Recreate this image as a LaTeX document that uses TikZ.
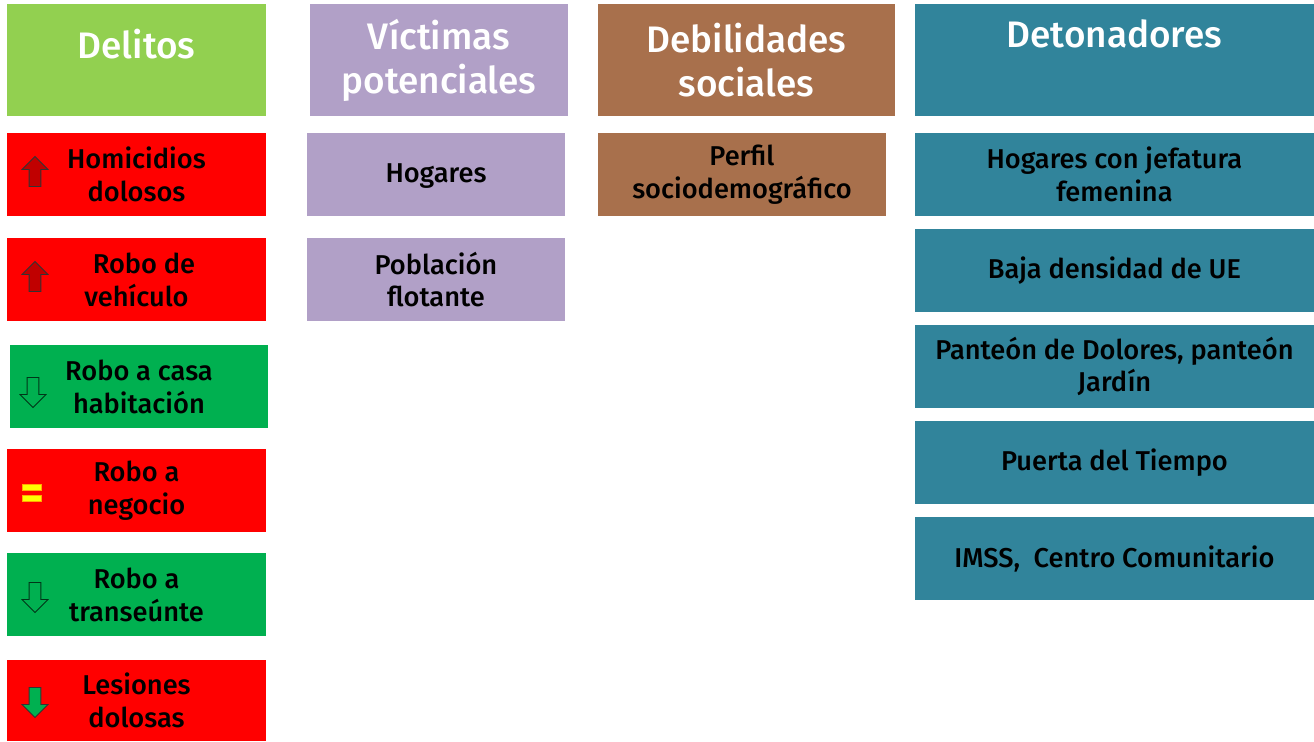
\documentclass[tikz,border=0pt]{standalone}
\usepackage{fontspec}
\setmainfont{Fira Sans}[UprightFont={* Medium}]
\usetikzlibrary{
  positioning,
  calc,
  shapes.arrows
}
\definecolor{hdrGreen}{RGB}{146,208,80}
\definecolor{hdrLilac}{RGB}{177,160,199}
\definecolor{hdrBrown}{RGB}{168,112,76}
\definecolor{hdrTeal}{RGB}{49,132,155}
\definecolor{boxRed}{RGB}{255,0,0}
\definecolor{boxGreen}{RGB}{0,176,80}
\definecolor{arrRed}{RGB}{192,0,0}
\definecolor{eqYellow}{RGB}{255,255,0}
\definecolor{eqOrange}{RGB}{255,170,0}
\tikzset{
  header/.style={
    rectangle,
    anchor=north west,
    inner sep=0pt,
    outer sep=0pt,
    minimum height=2.24cm,
    align=center,
    text=white,
    font=\fontsize{21}{25}\selectfont
  },
  item/.style={
    rectangle,
    anchor=north west,
    inner sep=0pt,
    outer sep=0pt,
    minimum height=1.66cm,
    align=center,
    text=black,
    font=\fontsize{15.5}{18.7}\selectfont
  },
  trendUp/.style={
    single arrow,
    shape border rotate=90,
    draw=black!80,
    fill=arrRed,
    line width=0.5pt,
    inner sep=0.11cm,
    minimum height=0.6cm,
    single arrow head extend=0.14cm
  },
  trendDown/.style={
    trendUp,
    shape border rotate=270,
    fill=boxGreen
  },
  eqBar/.style={
    rectangle,
    draw=eqOrange,
    fill=eqYellow,
    line width=0.6pt,
    minimum width=0.38cm,
    minimum height=0.12cm,
    inner sep=0pt
  }
}

\begin{document}
\begin{tikzpicture}[x=0.02cm, y=-0.02cm]
  \useasboundingbox (0,0) rectangle (1314,741);

  % headers
  \node[header, fill=hdrGreen, minimum width=5.18cm] (delitos) at (7,4) {\raisebox{0.02cm}[0pt][0pt]{Delitos}};
  \node[header, fill=hdrLilac, minimum width=5.16cm] (victimas) at (310,4) {Víctimas\\potenciales};
  \node[header, fill=hdrBrown, minimum width=5.94cm] (debil) at (598,4) {Debilidades\\sociales};
  \node[header, fill=hdrTeal, minimum width=7.98cm] (deton) at (915,4) {\raisebox{0.25cm}[0pt][0pt]{Detonadores}};

  % delitos
  \node[item, fill=boxRed, minimum width=5.18cm] (hom) at (7,133) {Homicidios\\dolosos};
  \node[item, fill=boxRed, minimum width=5.18cm] (veh) at (7,238) {\hspace{0.3cm}Robo de\\vehículo};
  \node[item, fill=boxGreen, minimum width=5.16cm] (casa) at (10,345) {Robo a casa\\habitación};
  \node[item, fill=boxRed, minimum width=5.18cm] (neg) at (7,449) {Robo a\\negocio};
  \node[item, fill=boxGreen, minimum width=5.18cm] (tran) at (7,553) {Robo a\\transeúnte};
  \node[item, fill=boxRed, minimum width=5.18cm, minimum height=1.62cm] (les) at (7,660) {Lesiones\\dolosas};

  \node[trendUp] (homArrow) at ($(hom.west)+(28,0)$) {};
  \node[trendUp] (vehArrow) at ($(veh.west)+(28,0)$) {};
  \node[trendDown, draw=black!70!boxGreen] (casaArrow) at ($(casa.west)+(23,3)$) {};
  \node[eqBar] (negEqA) at ($(neg.west)+(25,-3)$) {};
  \node[eqBar] (negEqB) at ($(neg.west)+(25,8)$) {};
  \node[trendDown, draw=black!70!boxGreen] (tranArrow) at ($(tran.west)+(28,0)$) {};
  \node[trendDown, draw=black!80] (lesArrow) at ($(les.west)+(28,-1)$) {};

  % victimas
  \node[item, fill=hdrLilac, minimum width=5.16cm] (hogares) at (307,133) {\raisebox{-0.17cm}[0pt][0pt]{Hogares}};
  \node[item, fill=hdrLilac, minimum width=5.16cm] (poblacion) at (307,238) {Población\\flotante};

  % debilidades
  \node[item, fill=hdrBrown, minimum width=5.76cm] (perfil) at (598,133) {Perfil\\sociodemográfico};

  % detonadores
  \node[item, fill=hdrTeal, minimum width=7.98cm] (jefatura) at (915,133) {Hogares con jefatura\\femenina};
  \node[item, fill=hdrTeal, minimum width=7.98cm] (densidad) at (915,229) {Baja densidad de UE};
  \node[item, fill=hdrTeal, minimum width=7.98cm] (panteon) at (915,325) {Panteón de Dolores, panteón\\Jardín};
  \node[item, fill=hdrTeal, minimum width=7.98cm] (puerta) at (915,421) {Puerta del Tiempo};
  \node[item, fill=hdrTeal, minimum width=7.98cm] (imss) at (915,517) {IMSS,~ Centro Comunitario};
\end{tikzpicture}
\end{document}
